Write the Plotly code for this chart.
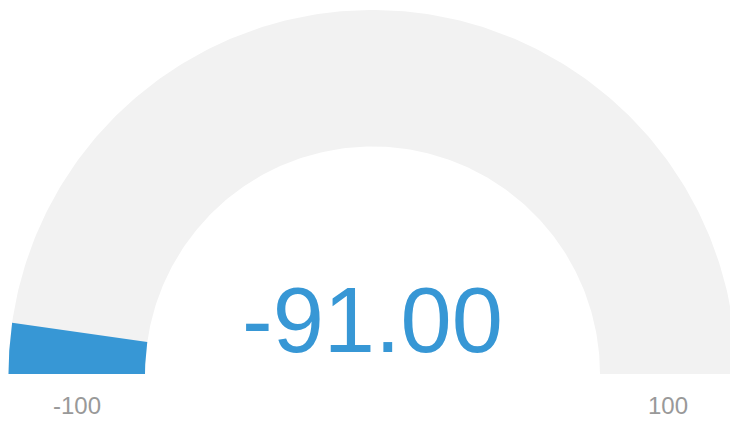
import numpy as np
import plotly.graph_objects as go

# data
gauge_min = -100
gauge_max = 100
gauge_value = -91.00
tick_labels = ["-100", "100"]

W, H = 730, 422
cx, cy = 372.5, H - 374
r_out, r_in = 364, 227.5

def ang(v):
    return np.pi * (1 - (v - gauge_min) / (gauge_max - gauge_min))

def arc(v0, v1, n=200):
    a = np.linspace(ang(v0), ang(v1), n)
    xs = np.concatenate([cx + r_out * np.cos(a), cx + r_in * np.cos(a[::-1])])
    ys = np.concatenate([cy + r_out * np.sin(a), cy + r_in * np.sin(a[::-1])])
    return np.append(xs, xs[0]), np.append(ys, ys[0])

fig = go.Figure()
bx, by = arc(gauge_min, gauge_max)
fig.add_trace(go.Scatter(x=bx, y=by, fill="toself", fillcolor="#f2f2f2",
                         line=dict(width=0), mode="lines", hoverinfo="skip"))
vx, vy = arc(gauge_min, gauge_value)
fig.add_trace(go.Scatter(x=vx, y=vy, fill="toself", fillcolor="#3797d5",
                         line=dict(width=0), mode="lines", hoverinfo="skip"))

font = "Arial, Liberation Sans, sans-serif"
fig.add_annotation(x=cx, y=H - 320, text=f"{gauge_value:.2f}", showarrow=False,
                   xanchor="center", yanchor="middle",
                   font=dict(family=font, size=92, color="#3797d5"))
fig.add_annotation(x=cx - (r_out + r_in) / 2, y=H - 405.5, text=tick_labels[0], showarrow=False,
                   xanchor="center", yanchor="middle",
                   font=dict(family=font, size=24, color="#999999"))
fig.add_annotation(x=cx + (r_out + r_in) / 2, y=H - 405.5, text=tick_labels[1], showarrow=False,
                   xanchor="center", yanchor="middle",
                   font=dict(family=font, size=24, color="#999999"))

fig.update_layout(width=W, height=H, margin=dict(l=0, r=0, t=0, b=0),
                  paper_bgcolor="white", plot_bgcolor="white", showlegend=False,
                  xaxis=dict(range=[0, W], visible=False, fixedrange=True),
                  yaxis=dict(range=[0, H], visible=False, fixedrange=True))
fig.write_html("out.html", config={"displayModeBar": False},
               post_script="document.body.style.margin='0';document.body.style.overflow='hidden';")
